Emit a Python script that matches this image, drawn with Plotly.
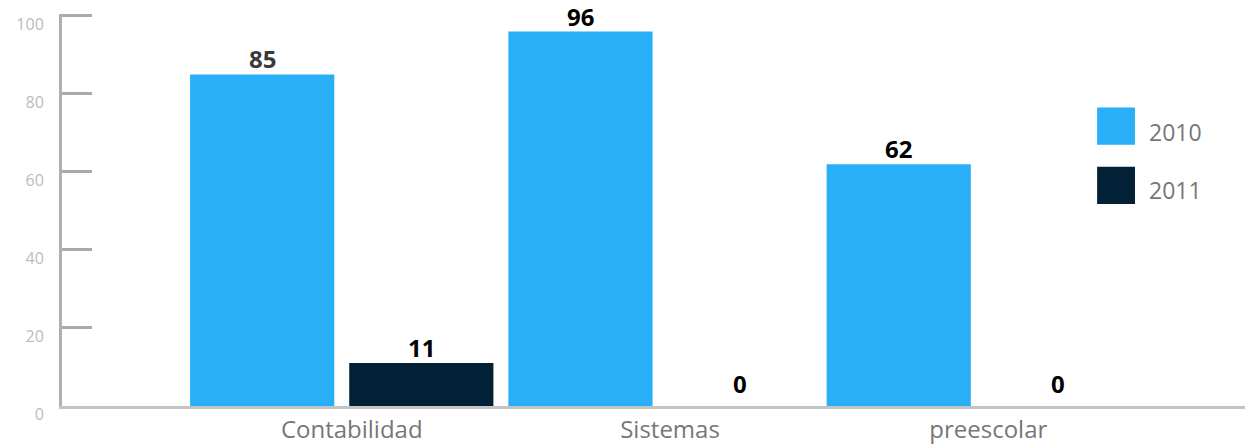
import plotly.graph_objects as go

categories = ["Contabilidad", "Sistemas", "preescolar"]
values_2010 = [85, 96, 62]
values_2011 = [11, 0, 0]
series_names = ["2010", "2011"]
y_ticks = [0, 20, 40, 60, 80, 100]

color_2010 = "#29AEF8"
color_2011 = "#022036"
font_family = "Open Sans, Noto Sans, sans-serif"

fig = go.Figure()
fig.add_trace(go.Bar(x=categories, y=values_2010, name=series_names[0],
                     marker=dict(color=color_2010, line=dict(width=0))))
fig.add_trace(go.Bar(x=categories, y=values_2011, name=series_names[1],
                     marker=dict(color=color_2011, line=dict(width=0))))

# value labels above the bars
annotations = []
for vals, shift in [(values_2010, -79.5), (values_2011, 79.5)]:
    for i, v in enumerate(vals):
        col = "#3a3a3a" if (i == 0 and shift < 0) else "#000000"
        annotations.append(dict(
            x=categories[i], y=v, xref="x", yref="y", text=f"<b>{v}</b>",
            showarrow=False, xshift=shift, yanchor="bottom", yshift=-3 if v else 4,
            font=dict(family=font_family, size=24, color=col),
        ))

# custom legend: large squares with labels
legend_items = [(series_names[0], color_2010, 0.7615, 0.6667, 0.700),
                (series_names[1], color_2011, 0.6103, 0.5154, 0.5513)]
shapes = []
for name, col, y1, y0, ty in legend_items:
    shapes.append(dict(type="rect", xref="paper", yref="paper", x0=0.875, x1=0.907,
                       y0=y0, y1=y1, fillcolor=col, line=dict(width=0)))
    annotations.append(dict(x=0.9172, y=ty, xref="paper", yref="paper", text=name,
                            showarrow=False, xanchor="left", yanchor="middle",
                            font=dict(family=font_family, size=23, color="#777777")))

fig.update_layout(
    barmode="group",
    bargap=0.0,
    bargroupgap=0.094,
    showlegend=False,
    width=1245, height=444,
    margin=dict(l=62, r=0, t=14, b=38),
    plot_bgcolor="white",
    paper_bgcolor="white",
    font=dict(family=font_family),
    shapes=shapes,
    annotations=annotations,
)
fig.update_xaxes(
    type="category", range=[-0.879, 2.838],
    showline=True, linecolor="#c4c4c4", linewidth=3,
    ticks="", showgrid=False, zeroline=False,
    tickfont=dict(size=24, color="#777777"),
    ticklabelshift=10,
    ticklabelstandoff=0,
)
fig.update_yaxes(
    range=[0, 100.5], tickvals=y_ticks,
    showline=True, linecolor="#b0b0b0", linewidth=3,
    ticks="inside", ticklen=30, tickwidth=3, tickcolor="#aaaaaa",
    showgrid=False, zeroline=False,
    tickfont=dict(size=16, color="#bbbbbb"),
    ticklabelstandoff=12,
    ticklabelshift=8,
)

# drop the default page margin so the figure sits at the window's corner
fig.write_html("out.html", config={"displayModeBar": False},
               post_script="document.body.style.margin='0';")
